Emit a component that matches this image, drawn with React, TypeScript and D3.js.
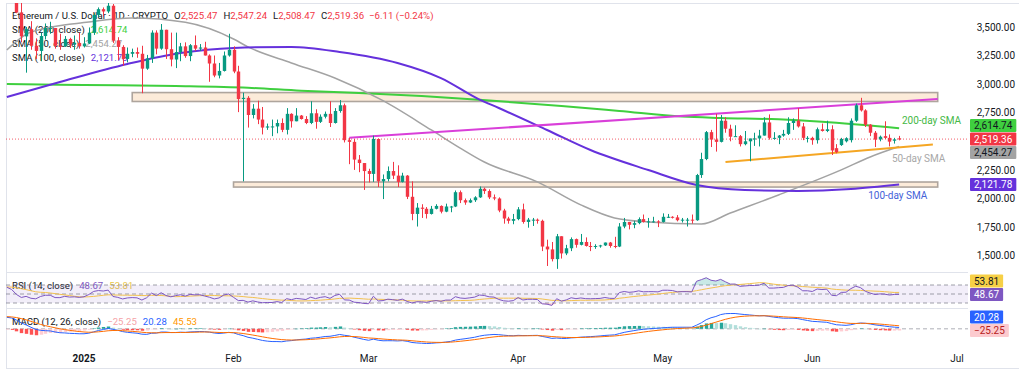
import React, { useEffect, useRef } from 'react';
import * as d3 from 'd3';

const W = 1024;
const H = 371;
const FONT = "Roboto, 'Liberation Sans', Arial, sans-serif";

// ETH/USD daily candles [open, high, low, close]
const dec2024 = [
  [3956, 4107, 3930, 3987], [3987, 4020, 3850, 3891], [3891, 3930, 3620, 3626], [3626, 3720, 3365, 3417],
  [3417, 3500, 3100, 3480], [3480, 3550, 3300, 3335], [3335, 3400, 3220, 3290], [3290, 3450, 3200, 3420],
  [3420, 3530, 3390, 3490], [3490, 3545, 3440, 3490], [3490, 3490, 3310, 3335], [3335, 3440, 3300, 3330],
  [3330, 3420, 3325, 3395], [3395, 3405, 3315, 3350], [3350, 3425, 3300, 3360], [3360, 3450, 3310, 3330],
];
const jan2025 = [
  [3330, 3410, 3320, 3355], [3355, 3495, 3350, 3450], [3450, 3620, 3430, 3605], [3605, 3670, 3585, 3655],
  [3655, 3670, 3590, 3635], [3635, 3745, 3620, 3685], [3685, 3700, 3360, 3380], [3380, 3410, 3210, 3325],
  [3325, 3340, 3160, 3220], [3220, 3320, 3190, 3265], [3265, 3310, 3235, 3280], [3280, 3320, 3230, 3265],
  [3265, 3335, 2920, 3135], [3135, 3255, 3125, 3225], [3225, 3470, 3185, 3450], [3450, 3470, 3260, 3310],
  [3310, 3525, 3300, 3475], [3475, 3475, 3220, 3305], [3305, 3450, 3155, 3215], [3215, 3450, 3140, 3280],
  [3280, 3360, 3200, 3330], [3330, 3365, 3230, 3245], [3245, 3350, 3200, 3340], [3340, 3425, 3290, 3310],
  [3310, 3350, 3290, 3320], [3320, 3370, 3250, 3250], [3250, 3260, 3020, 3180], [3180, 3250, 3060, 3075],
  [3075, 3185, 3050, 3115], [3115, 3285, 3110, 3250], [3250, 3440, 3240, 3300],
];
const feb2025 = [
  [3300, 3330, 3095, 3110], [3110, 3160, 2755, 2870], [2870, 2925, 2150, 2880], [2880, 2895, 2620, 2730],
  [2730, 2825, 2700, 2785], [2785, 2855, 2650, 2690], [2690, 2800, 2560, 2620], [2620, 2655, 2600, 2630],
  [2630, 2690, 2545, 2630], [2630, 2690, 2570, 2660], [2660, 2700, 2580, 2600], [2600, 2790, 2560, 2740],
  [2740, 2745, 2620, 2675], [2675, 2790, 2675, 2725], [2725, 2730, 2690, 2695], [2695, 2720, 2650, 2660],
  [2660, 2850, 2650, 2745], [2745, 2780, 2610, 2670], [2670, 2735, 2660, 2715], [2715, 2760, 2700, 2740],
  [2740, 2850, 2625, 2660], [2660, 2790, 2655, 2765], [2765, 2860, 2750, 2815], [2815, 2830, 2490, 2510],
  [2510, 2530, 2300, 2495], [2495, 2520, 2250, 2340], [2340, 2380, 2230, 2310], [2310, 2310, 2075, 2240],
];
const mar2025 = [
  [2240, 2260, 2140, 2215], [2215, 2550, 2145, 2520], [2520, 2525, 2100, 2150], [2150, 2210, 1995, 2170],
  [2170, 2280, 2150, 2240], [2240, 2320, 2170, 2200], [2200, 2290, 2100, 2145], [2145, 2225, 2140, 2200],
  [2200, 2205, 1995, 2015], [2015, 2150, 1810, 1865], [1865, 1960, 1755, 1920], [1920, 1950, 1830, 1910],
  [1910, 1925, 1825, 1865], [1865, 1935, 1860, 1910], [1910, 1950, 1905, 1935], [1935, 1940, 1870, 1885],
  [1885, 1955, 1880, 1930], [1930, 1935, 1880, 1930], [1930, 2070, 1925, 2055], [2055, 2070, 1960, 1985],
  [1985, 2000, 1945, 1965], [1965, 2000, 1960, 1985], [1985, 2020, 1970, 2010], [2010, 2105, 2005, 2085],
  [2085, 2095, 2040, 2065], [2065, 2080, 1995, 2010], [2010, 2035, 1985, 2000], [2000, 2010, 1880, 1895],
  [1895, 1910, 1780, 1825], [1825, 1840, 1780, 1805], [1805, 1865, 1775, 1820],
];
const apr2025 = [
  [1820, 1925, 1810, 1905], [1905, 1955, 1780, 1795], [1795, 1830, 1745, 1815], [1815, 1830, 1760, 1815],
  [1815, 1825, 1780, 1805], [1805, 1815, 1540, 1580], [1580, 1640, 1410, 1555], [1555, 1620, 1450, 1470],
  [1470, 1690, 1385, 1670], [1670, 1670, 1475, 1520], [1520, 1595, 1505, 1565], [1565, 1660, 1540, 1645],
  [1645, 1650, 1570, 1595], [1595, 1690, 1590, 1620], [1620, 1660, 1580, 1585], [1585, 1620, 1540, 1580],
  [1580, 1600, 1560, 1585], [1585, 1595, 1570, 1590], [1590, 1615, 1585, 1615], [1615, 1620, 1570, 1585],
  [1585, 1665, 1565, 1580], [1580, 1785, 1575, 1755], [1755, 1830, 1740, 1795], [1795, 1795, 1730, 1770],
  [1770, 1805, 1740, 1785], [1785, 1835, 1775, 1820], [1820, 1860, 1790, 1795], [1795, 1830, 1745, 1800],
  [1800, 1840, 1790, 1800], [1800, 1810, 1750, 1795],
];
const may2025 = [
  [1795, 1870, 1790, 1840], [1840, 1865, 1830, 1840], [1840, 1845, 1825, 1835], [1835, 1855, 1800, 1810],
  [1810, 1830, 1790, 1815], [1815, 1830, 1755, 1815], [1815, 1860, 1780, 1810], [1810, 2215, 1805, 2205],
  [2205, 2400, 2180, 2345], [2345, 2590, 2335, 2580], [2580, 2600, 2450, 2515], [2515, 2740, 2410, 2495],
  [2495, 2730, 2490, 2680], [2680, 2710, 2575, 2610], [2610, 2645, 2500, 2540], [2540, 2640, 2540, 2545],
  [2545, 2555, 2455, 2475], [2475, 2590, 2465, 2500], [2500, 2520, 2325, 2525], [2525, 2575, 2460, 2525],
  [2525, 2600, 2455, 2550], [2550, 2710, 2550, 2665], [2665, 2735, 2515, 2530], [2530, 2580, 2515, 2530],
  [2530, 2555, 2475, 2550], [2550, 2600, 2540, 2565], [2565, 2710, 2555, 2660], [2660, 2700, 2600, 2680],
  [2680, 2790, 2620, 2630], [2630, 2660, 2510, 2530], [2530, 2545, 2490, 2530],
];
const jun2025 = [
  [2530, 2540, 2470, 2510], [2510, 2620, 2480, 2605], [2605, 2655, 2585, 2590], [2590, 2680, 2580, 2605],
  [2605, 2640, 2380, 2420], [2440, 2475, 2395, 2405], [2467, 2530, 2460, 2520], [2500, 2535, 2490, 2527],
  [2510, 2700, 2490, 2680], [2680, 2830, 2670, 2815], [2815, 2880, 2760, 2770], [2770, 2780, 2625, 2645],
  [2645, 2650, 2545, 2575], [2575, 2590, 2450, 2515], [2517, 2550, 2500, 2540], [2545, 2675, 2520, 2530],
  [2530, 2560, 2455, 2497], [2505, 2530, 2480, 2517], [2525.47, 2547.24, 2508.47, 2519.36],
];
const firstDay = '2024-12-16';

// closes before the visible window (off-screen), only used to warm up RSI / MACD
const warmupCloses = [
  2720, 2895, 2960, 3130, 3185, 3370, 3245, 3185, 3060, 3090, 3130, 3075, 3210, 3105, 3070, 3355, 3330, 3395, 3360, 3415,
  3325, 3655, 3580, 3590, 3705, 3705, 3640, 3615, 3840, 3790, 4000, 3995, 4005, 3710, 3630, 3835, 3880, 3905, 3870, 3960,
];

// moving averages
const sma200Dates = ['2024-12-16', '2025-01-01', '2025-01-20', '2025-02-04', '2025-02-15', '2025-02-27', '2025-03-12',
  '2025-03-24', '2025-04-10', '2025-04-22', '2025-05-05', '2025-05-13', '2025-05-25', '2025-06-03', '2025-06-19'];
const sma200Values = [3001, 2992, 2983, 2968, 2942, 2922, 2896, 2863, 2809, 2765, 2716, 2704, 2692, 2671, 2615];

const sma50Dates = ['2024-12-16', '2024-12-21', '2025-01-02', '2025-01-11', '2025-01-22', '2025-02-01', '2025-02-04',
  '2025-02-13', '2025-02-22', '2025-03-04', '2025-03-14', '2025-03-20', '2025-03-25', '2025-04-05', '2025-04-14',
  '2025-04-21', '2025-04-28', '2025-05-09', '2025-05-15', '2025-05-25', '2025-06-07', '2025-06-13', '2025-06-19'];
const sma50Values = [3298, 3455, 3543, 3578, 3540, 3394, 3325, 3185, 3053, 2855, 2599, 2441, 2319, 2145, 1944,
  1830, 1795, 1777, 1873, 2031, 2250, 2363, 2454];

const sma100Dates = ['2024-12-16', '2024-12-27', '2025-01-10', '2025-01-21', '2025-02-01', '2025-02-13', '2025-02-23',
  '2025-03-07', '2025-03-16', '2025-03-24', '2025-03-28', '2025-04-07', '2025-04-16', '2025-04-28', '2025-05-08',
  '2025-05-18', '2025-05-29', '2025-06-09', '2025-06-19'];
const sma100Values = [2887, 3018, 3176, 3272, 3316, 3325, 3281, 3185, 3053, 2865, 2791, 2599, 2424, 2249, 2118,
  2074, 2066, 2083, 2122];

// drawn annotations: [date, price]
const upperBand = { from: '2025-01-11', to: '2025-06-27', low: 2848, high: 2926 };
const lowerBand = { from: '2025-02-01', to: '2025-06-27', low: 2100, high: 2144 };
const upperTrend = [['2025-02-25', 2530], ['2025-06-27', 2870]] as [string, number][];
const lowerTrend = [['2025-05-14', 2319], ['2025-06-26', 2472]] as [string, number][];
const notes = [
  { text: '200-day SMA', date: '2025-06-19T14:00:00Z', price: 2652, color: '#45b845' },
  { text: '50-day SMA', date: '2025-06-17T12:00:00Z', price: 2319, color: '#a8a8a8' },
  { text: '100-day SMA', date: '2025-06-12T14:00:00Z', price: 1996, color: '#4361d8' },
];

const priceTicks = [1500, 1750, 2000, 2250, 2500, 2750, 3000, 3250, 3500];
const last = { open: 2525.47, high: 2547.24, low: 2508.47, close: 2519.36, change: '−6.11 (−0.24%)' };
const smaLast = { s200: 2614.74, s50: 2454.27, s100: 2121.78 };
const rsiLast = { rsi: 48.67, ma: 53.81 };
const macdLast = { hist: -25.25, macd: 20.28, signal: 45.53 };

const UP = '#089981';
const DOWN = '#f23645';
const C200 = '#3fcf3f';
const C50 = '#a3a3a3';
const C100 = '#6531dc';
const TXT = '#131722';

function ema(v: number[], n: number) {
  const k = 2 / (n + 1);
  const out: number[] = [];
  v.forEach((d, i) => out.push(i === 0 ? d : d * k + out[i - 1] * (1 - k)));
  return out;
}
function rsiCalc(v: number[], n: number) {
  const out = v.map(() => NaN);
  let g = 0, l = 0;
  for (let i = 1; i < v.length; i++) {
    const ch = v[i] - v[i - 1];
    const up = Math.max(ch, 0), dn = Math.max(-ch, 0);
    if (i <= n) {
      g += up; l += dn;
      if (i === n) { g /= n; l /= n; out[i] = 100 - 100 / (1 + g / l); }
    } else {
      g = (g * (n - 1) + up) / n; l = (l * (n - 1) + dn) / n;
      out[i] = l === 0 ? 100 : 100 - 100 / (1 + g / l);
    }
  }
  return out;
}
function smaCalc(v: number[], n: number) {
  return v.map((_, i) => (i < n - 1 || isNaN(v[i - n + 1]) ? NaN : d3.mean(v.slice(i - n + 1, i + 1)) as number));
}
// keep label boxes apart, the anchored one stays on its value
function stack(ys: number[], anchor: number, gap: number) {
  const out = ys.slice();
  const order = d3.range(ys.length).sort((a, b) => out[a] - out[b]);
  const ai = order.indexOf(anchor);
  for (let k = ai - 1; k >= 0; k--) {
    const i = order[k], j = order[k + 1];
    if (out[j] - out[i] < gap) out[i] = out[j] - gap;
  }
  for (let k = ai + 1; k < order.length; k++) {
    const i = order[k], j = order[k - 1];
    if (out[i] - out[j] < gap) out[i] = out[j] + gap;
  }
  return out;
}

const App: React.FC = () => {
  const ref = useRef<SVGSVGElement>(null);

  useEffect(() => {
    if (!ref.current) return;
    const svg = d3.select(ref.current);
    svg.selectAll('*').remove();

    const parse = (s: string) => d3.isoParse(s.length === 10 ? s + 'T00:00:00Z' : s) as Date;
    const candles = [...dec2024, ...jan2025, ...feb2025, ...mar2025, ...apr2025, ...may2025, ...jun2025];
    const days = candles.map((_, i) => d3.utcDay.offset(parse(firstDay), i));

    const left = 6, right = 968, top = 3;
    const mainB = 272, rsiT = 273, rsiB = 308, macdT = 309, macdB = 347;

    const x = d3.scaleUtc().domain([parse('2025-01-01'), parse('2025-07-01')]).range([84, 957]);
    const y = d3.scaleLinear().domain([1500, 3500]).range([255.7, 26.9]);
    const yR = d3.scaleLinear().domain([30, 70]).range([303, 285]);

    // indicators from the closes
    const closes = [...warmupCloses, ...candles.map(c => c[3])];
    const n0 = warmupCloses.length;
    const rsiAll = rsiCalc(closes, 14);
    const rsiMaAll = smaCalc(rsiAll, 14);
    const e12 = ema(closes, 12), e26 = ema(closes, 26);
    const macdAll = e12.map((d, i) => d - e26[i]);
    const sigAll = ema(macdAll, 9);
    const histAll = macdAll.map((d, i) => d - sigAll[i]);
    const vis = (a: number[]) => a.slice(n0);
    const macdV = vis(macdAll), sigV = vis(sigAll), histV = vis(histAll);
    const ext = d3.extent([...macdV, ...sigV, ...histV]) as [number, number];
    const yM = d3.scaleLinear().domain(ext).range([343.5, 313.5]);

    svg.append('rect').attr('width', W).attr('height', H).attr('fill', '#fff');

    const defs = svg.append('defs');
    const clip = (id: string, t: number, b: number) =>
      defs.append('clipPath').attr('id', id).append('rect')
        .attr('x', left).attr('y', t).attr('width', right - left).attr('height', b - t);
    clip('cMain', top, mainB);
    clip('cRsi', rsiT, rsiB);
    clip('cMacd', macdT, macdB);

    // frame (left, top, bottom) and pane separators
    const frame = svg.append('g').attr('stroke', '#e0e3eb');
    frame.append('line').attr('x1', left + 0.5).attr('x2', left + 0.5).attr('y1', top).attr('y2', 368);
    frame.append('line').attr('x1', left).attr('x2', 1019).attr('y1', top + 0.5).attr('y2', top + 0.5);
    frame.append('line').attr('x1', left).attr('x2', 1019).attr('y1', 368.5).attr('y2', 368.5);
    [mainB + 0.5, rsiB + 0.5].forEach(v => {
      frame.append('line').attr('x1', left).attr('x2', right).attr('y1', v).attr('y2', v);
    });

    // legend (under the candles)
    const leg = svg.append('g').attr('font-family', FONT).attr('font-size', 9.6).attr('fill', TXT);
    const fmt = d3.format(',.2f');
    const l1 = leg.append('text').attr('x', 12).attr('y', 19);
    l1.append('tspan').text('Ethereum / U.S. Dollar · 1D · CRYPTO');
    [['O', last.open], ['H', last.high], ['L', last.low], ['C', last.close]].forEach(([k, v]) => {
      l1.append('tspan').attr('dx', 6).text(k as string);
      l1.append('tspan').attr('fill', DOWN).text(fmt(v as number));
    });
    l1.append('tspan').attr('dx', 5).attr('fill', DOWN).text(last.change);
    [['SMA (200, close)', smaLast.s200, C200], ['SMA (50, close)', smaLast.s50, C50], ['SMA (100, close)', smaLast.s100, C100]]
      .forEach(([k, v, c], i) => {
        const t = leg.append('text').attr('x', 12).attr('y', 33 + i * 14);
        t.append('tspan').text(k as string);
        t.append('tspan').attr('dx', 6).attr('fill', c as string).text(fmt(v as number));
      });
    const lr = leg.append('text').attr('x', 12).attr('y', 289);
    lr.append('tspan').text('RSI (14, close)');
    lr.append('tspan').attr('dx', 6).attr('fill', '#7e57c2').text(rsiLast.rsi.toFixed(2));
    lr.append('tspan').attr('dx', 6).attr('fill', '#e8c547').text(rsiLast.ma.toFixed(2));
    const lm = leg.append('text').attr('x', 12).attr('y', 325);
    lm.append('tspan').text('MACD (12, 26, close)');
    lm.append('tspan').attr('dx', 6).attr('fill', '#f5a3a8').text(macdLast.hist.toFixed(2).replace('-', '−'));
    lm.append('tspan').attr('dx', 6).attr('fill', '#2962ff').text(macdLast.macd.toFixed(2));
    lm.append('tspan').attr('dx', 6).attr('fill', '#ff9800').text(macdLast.signal.toFixed(2));

    // main pane
    const g = svg.append('g').attr('clip-path', 'url(#cMain)');
    [upperBand, lowerBand].forEach(b => {
      g.append('rect')
        .attr('x', x(parse(b.from))).attr('width', x(parse(b.to)) - x(parse(b.from)))
        .attr('y', y(b.high)).attr('height', y(b.low) - y(b.high))
        .attr('fill', '#fcebd9').attr('stroke', '#aea59d').attr('stroke-width', 1.6);
    });

    const smaLine = d3.line<[Date, number]>().x(d => x(d[0])).y(d => y(d[1])).curve(d3.curveMonotoneX);
    const lineOf = (ds: string[], vs: number[]) => ds.map((d, i) => [parse(d), vs[i]] as [Date, number]);
    g.append('path').attr('d', smaLine(lineOf(sma200Dates, sma200Values))).attr('fill', 'none').attr('stroke', C200).attr('stroke-width', 2);
    g.append('path').attr('d', smaLine(lineOf(sma50Dates, sma50Values))).attr('fill', 'none').attr('stroke', C50).attr('stroke-width', 1.5);
    g.append('path').attr('d', smaLine(lineOf(sma100Dates, sma100Values))).attr('fill', 'none').attr('stroke', C100).attr('stroke-width', 2);

    const trend = d3.line<[string, number]>().x(d => x(parse(d[0]))).y(d => y(d[1]));
    g.append('path').attr('d', trend(upperTrend)).attr('stroke', '#d93fd9').attr('stroke-width', 2).attr('fill', 'none');
    g.append('path').attr('d', trend(lowerTrend)).attr('stroke', '#f5a623').attr('stroke-width', 2).attr('fill', 'none');

    g.append('line').attr('x1', left).attr('x2', right).attr('y1', y(last.close)).attr('y2', y(last.close))
      .attr('stroke', DOWN).attr('stroke-dasharray', '1,2').attr('opacity', 0.8);

    const cg = g.append('g');
    candles.forEach((c, i) => {
      const [o, h, l, cl] = c;
      const cx = Math.round(x(days[i])) + 0.5;
      const col = cl >= o ? UP : DOWN;
      cg.append('line').attr('x1', cx).attr('x2', cx).attr('y1', y(h)).attr('y2', y(l)).attr('stroke', col).attr('stroke-width', 1);
      const y0 = y(Math.max(o, cl)), y1 = y(Math.min(o, cl));
      cg.append('rect').attr('x', cx - 1.7).attr('width', 3.4).attr('y', y0).attr('height', Math.max(1, y1 - y0)).attr('fill', col);
    });

    notes.forEach(n => {
      g.append('text').attr('x', x(parse(n.date))).attr('y', y(n.price)).attr('font-family', FONT)
        .attr('font-size', 10).attr('fill', n.color).text(n.text);
    });

    // RSI pane
    const gr = svg.append('g').attr('clip-path', 'url(#cRsi)');
    gr.append('rect').attr('x', left).attr('width', right - left).attr('y', yR(70)).attr('height', yR(30) - yR(70))
      .attr('fill', '#7e57c2').attr('opacity', 0.1);
    [70, 50, 30].forEach(v => {
      gr.append('line').attr('x1', left).attr('x2', right).attr('y1', yR(v)).attr('y2', yR(v))
        .attr('stroke', '#787b86').attr('stroke-dasharray', '4,3').attr('opacity', 0.7);
    });
    const rsiV = vis(rsiAll), rsiMaV = vis(rsiMaAll);
    const ob = d3.area<number>().x((_, i) => x(days[i])).y0(yR(70)).y1(d => yR(Math.max(d, 70)));
    gr.append('path').attr('d', ob(rsiV)).attr('fill', '#26a69a').attr('opacity', 0.25);
    const os = d3.area<number>().x((_, i) => x(days[i])).y0(yR(30)).y1(d => yR(Math.min(d, 30)));
    gr.append('path').attr('d', os(rsiV)).attr('fill', '#f23645').attr('opacity', 0.2);
    const rl = d3.line<number>().x((_, i) => x(days[i])).y(d => yR(d));
    gr.append('path').attr('d', rl(rsiMaV)).attr('fill', 'none').attr('stroke', '#f2c14e').attr('stroke-width', 1);
    gr.append('path').attr('d', rl(rsiV)).attr('fill', 'none').attr('stroke', '#7e57c2').attr('stroke-width', 1);

    // MACD pane
    const gm = svg.append('g').attr('clip-path', 'url(#cMacd)');
    gm.append('line').attr('x1', left).attr('x2', right).attr('y1', yM(0)).attr('y2', yM(0))
      .attr('stroke', '#787b86').attr('stroke-dasharray', '4,3').attr('opacity', 0.6);
    histV.forEach((hv, i) => {
      const prev = histAll[n0 + i - 1];
      const col = hv >= 0 ? (prev < hv ? '#26a69a' : '#b2dfdb') : (prev < hv ? '#ffcdd2' : '#ff5252');
      const cx = Math.round(x(days[i])) + 0.5;
      const ya = yM(Math.max(hv, 0)), yb = yM(Math.min(hv, 0));
      gm.append('rect').attr('x', cx - 1.7).attr('width', 3.4).attr('y', ya).attr('height', Math.max(0.5, yb - ya)).attr('fill', col);
    });
    const ml = d3.line<number>().x((_, i) => x(days[i])).y(d => yM(d));
    gm.append('path').attr('d', ml(macdV)).attr('fill', 'none').attr('stroke', '#2962ff').attr('stroke-width', 1);
    gm.append('path').attr('d', ml(sigV)).attr('fill', 'none').attr('stroke', '#ff6d00').attr('stroke-width', 1);

    // axes
    const ax = svg.append('g').attr('font-family', FONT).attr('font-size', 10).attr('fill', TXT);
    const months = d3.utcMonth.range(parse('2025-01-01'), parse('2025-07-02'));
    months.forEach(m => {
      ax.append('text').attr('x', x(m)).attr('y', 361.5).attr('text-anchor', 'middle')
        .attr('font-weight', m.getUTCMonth() === 0 ? 'bold' : 'normal')
        .text(m.getUTCMonth() === 0 ? d3.utcFormat('%Y')(m) : d3.utcFormat('%b')(m));
    });

    const boxes = (items: { v: number; text: string; fill: string; color: string }[], sc: (v: number) => number, anchor: number) => {
      const ys = stack(items.map(d => sc(d.v)), anchor, 13.5);
      items.forEach((d, i) => {
        const bg = ax.append('g');
        const r = bg.append('rect').attr('x', 970).attr('y', ys[i] - 6.5).attr('height', 13).attr('rx', 1).attr('fill', d.fill);
        const t = bg.append('text').attr('y', ys[i]).attr('dy', '0.36em').attr('fill', d.color).attr('text-anchor', 'middle').text(d.text);
        const w = (t.node() as SVGTextElement).getComputedTextLength() + 8;
        r.attr('width', w);
        t.attr('x', 970 + w / 2);
      });
      return ys;
    };

    const priceItems = [
      { v: smaLast.s200, text: fmt(smaLast.s200), fill: C200, color: TXT },
      { v: last.close, text: fmt(last.close), fill: DOWN, color: '#fff' },
      { v: smaLast.s50, text: fmt(smaLast.s50), fill: C50, color: TXT },
      { v: smaLast.s100, text: fmt(smaLast.s100), fill: C100, color: '#fff' },
    ];
    const taken = priceItems.map(d => y(d.v));
    priceTicks.filter(t => taken.every(v => Math.abs(y(t) - v) > 10)).forEach(t => {
      ax.append('text').attr('x', 1015).attr('y', y(t)).attr('dy', '0.36em').attr('text-anchor', 'end').text(fmt(t));
    });
    boxes(priceItems, y, 1);
    boxes([
      { v: rsiLast.ma, text: rsiLast.ma.toFixed(2), fill: '#f7d046', color: TXT },
      { v: rsiLast.rsi, text: rsiLast.rsi.toFixed(2), fill: '#7e57c2', color: '#fff' },
    ], yR, 1);
    boxes([
      { v: macdLast.macd, text: macdLast.macd.toFixed(2), fill: '#2962ff', color: '#fff' },
      { v: macdLast.hist, text: macdLast.hist.toFixed(2).replace('-', '−'), fill: '#fccbcf', color: '#b71c1c' },
    ], yM, 1);
  }, []);

  return (
    <div style={{ position: 'absolute', left: 0, top: 0 }}>
      <svg ref={ref} width={W} height={H} style={{ display: 'block' }} />
    </div>
  );
};

export default App;
